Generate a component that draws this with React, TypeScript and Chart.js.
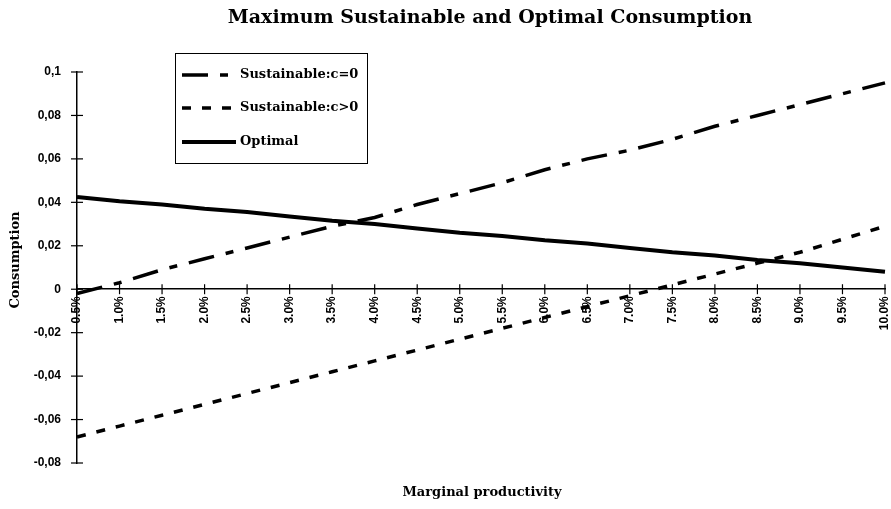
import React, { useEffect, useRef } from "react";
import { Chart, registerables } from "chart.js";

Chart.register(...registerables);

const categories = [
  "0.5%", "1.0%", "1.5%", "2.0%", "2.5%", "3.0%", "3.5%", "4.0%", "4.5%", "5.0%",
  "5.5%", "6.0%", "6.5%", "7.0%", "7.5%", "8.0%", "8.5%", "9.0%", "9.5%", "10.0%",
];

const sustainableZero = [
  -0.002, 0.003, 0.009, 0.014, 0.019, 0.024, 0.029, 0.033, 0.039, 0.044,
  0.049, 0.055, 0.06, 0.064, 0.069, 0.075, 0.08, 0.085, 0.09, 0.095,
];

const sustainablePositive = [
  -0.068, -0.063, -0.058, -0.053, -0.048, -0.043, -0.038, -0.033, -0.028, -0.023,
  -0.018, -0.013, -0.008, -0.003, 0.002, 0.007, 0.012, 0.017, 0.023, 0.029,
];

const optimal = [
  0.0425, 0.0405, 0.039, 0.037, 0.0355, 0.0335, 0.0315, 0.03, 0.028, 0.026,
  0.0245, 0.0225, 0.021, 0.019, 0.017, 0.0155, 0.0135, 0.012, 0.01, 0.008,
];

const yMin = -0.08;
const yMax = 0.1;
const yStep = 0.02;

const titleText = "Maximum Sustainable and Optimal Consumption";
const xTitleText = "Marginal productivity";
const yTitleText = "Consumption";
const seriesLabels = ["Sustainable:c=0", "Sustainable:c>0", "Optimal"];

const formatTick = (v: number) => {
  const r = Math.round(v * 100) / 100;
  if (r === 0) return "0";
  return String(r).replace(".", ",");
};

const decorPlugin = {
  id: "decor",
  afterDraw(chart: any) {
    const ctx = chart.ctx;
    const xs = chart.scales.x;
    const ys = chart.scales.y;
    ctx.save();
    ctx.fillStyle = "#000";
    ctx.strokeStyle = "#000";

    // title
    ctx.textAlign = "center";
    ctx.textBaseline = "middle";
    ctx.font = "bold 19px 'DejaVu Serif'";
    ctx.fillText(titleText, 490, 18);

    // x title
    ctx.font = "bold 13px 'DejaVu Serif'";
    ctx.fillText(xTitleText, 482, 493);

    // y title
    ctx.save();
    ctx.translate(16, 260);
    ctx.rotate(-Math.PI / 2);
    ctx.font = "bold 13px 'DejaVu Serif'";
    ctx.fillText(yTitleText, 0, 0);
    ctx.restore();

    // tick crosses
    ctx.lineWidth = 1.2;
    const y0 = ys.getPixelForValue(0);
    xs.ticks.forEach((_t: any, i: number) => {
      const px = xs.getPixelForTick(i);
      ctx.beginPath();
      ctx.moveTo(px, y0 - 5);
      ctx.lineTo(px, y0 + 5);
      ctx.stroke();
    });
    const x0 = chart.chartArea.left;
    ys.ticks.forEach((_t: any, i: number) => {
      const py = ys.getPixelForTick(i);
      ctx.beginPath();
      ctx.moveTo(x0 - 6, py);
      ctx.lineTo(x0 + 6, py);
      ctx.stroke();
    });

    // legend
    const bx = 175, by = 53, bw = 192, bh = 110;
    ctx.fillStyle = "#fff";
    ctx.fillRect(bx, by, bw, bh);
    ctx.strokeStyle = "#000";
    ctx.lineWidth = 1;
    ctx.strokeRect(bx + 0.5, by + 0.5, bw, bh);
    const rows = [75, 108, 142];
    chart.data.datasets.forEach((ds: any, i: number) => {
      const ry = rows[i];
      ctx.save();
      ctx.strokeStyle = ds.borderColor;
      ctx.lineWidth = ds.borderWidth;
      ctx.setLineDash(ds.borderDash || []);
      ctx.beginPath();
      ctx.moveTo(182, ry);
      ctx.lineTo(236, ry);
      ctx.stroke();
      ctx.restore();
      ctx.fillStyle = "#000";
      ctx.textAlign = "left";
      ctx.textBaseline = "middle";
      ctx.font = "bold 13px 'DejaVu Serif'";
      ctx.fillText(ds.label, 240, ry);
    });
    ctx.restore();
  },
};

export default function App() {
  const canvasRef = useRef<HTMLCanvasElement | null>(null);

  useEffect(() => {
    const canvas = canvasRef.current;
    if (!canvas) return;
    const chart = new Chart(canvas, {
      type: "line",
      data: {
        labels: categories,
        datasets: [
          {
            label: seriesLabels[0],
            data: sustainableZero,
            borderColor: "#000",
            borderWidth: 3.5,
            borderDash: [26, 12, 8, 12],
            pointRadius: 0,
            fill: false,
            tension: 0,
            clip: false as any,
          },
          {
            label: seriesLabels[1],
            data: sustainablePositive,
            borderColor: "#000",
            borderWidth: 3.5,
            borderDash: [9, 11],
            pointRadius: 0,
            fill: false,
            tension: 0,
            clip: false as any,
          },
          {
            label: seriesLabels[2],
            data: optimal,
            borderColor: "#000",
            borderWidth: 4,
            pointRadius: 0,
            fill: false,
            tension: 0,
            clip: false as any,
          },
        ],
      },
      options: {
        animation: false,
        responsive: false,
        devicePixelRatio: 1,
        layout: { padding: { left: 0, top: 72, right: 6, bottom: 46 } },
        plugins: {
          legend: { display: false },
          title: { display: false },
          tooltip: { enabled: false },
        },
        scales: {
          x: {
            type: "category",
            offset: false,
            position: { y: 0 } as any,
            grid: { display: false, drawTicks: false, tickLength: 0 },
            border: { display: true, color: "#000", width: 1.5 },
            ticks: {
              autoSkip: false,
              minRotation: 90,
              maxRotation: 90,
              padding: 7,
              color: "#000",
              font: { family: "'Liberation Sans'", size: 12, weight: "bold" },
            },
            afterFit: (scale: any) => {
              scale.paddingLeft = 0;
              scale.paddingRight = 0;
            },
          },
          y: {
            type: "linear",
            min: yMin,
            max: yMax,
            grid: { display: false, drawTicks: false, tickLength: 0 },
            border: { display: true, color: "#000", width: 1.5 },
            ticks: {
              stepSize: yStep,
              padding: 16,
              color: "#000",
              font: { family: "'Liberation Sans'", size: 12, weight: "bold" },
              callback: (v: any) => formatTick(Number(v)),
            },
            afterFit: (scale: any) => {
              scale.width = 77;
            },
          },
        },
      },
      plugins: [decorPlugin],
    });
    return () => chart.destroy();
  }, []);

  return (
    <div style={{ position: "absolute", left: 0, top: 0, width: 891, height: 509, background: "#fff" }}>
      <canvas ref={canvasRef} width={891} height={509} />
    </div>
  );
}
